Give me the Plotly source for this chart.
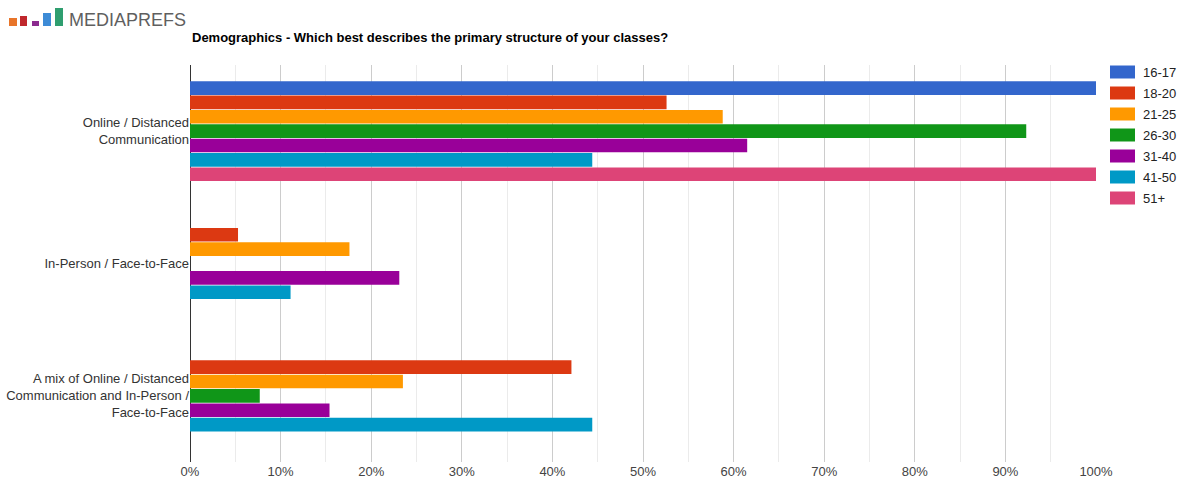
import plotly.graph_objects as go

# Survey answers (y categories, top to bottom)
categories = [
    "Online / Distanced<br>Communication",
    "In-Person / Face-to-Face",
    "A mix of Online / Distanced<br>Communication and In-Person /<br>Face-to-Face",
]

# Age groups and their share of answers (%)
age_groups = ["16-17", "18-20", "21-25", "26-30", "31-40", "41-50", "51+"]
share_16_17 = [100.0, 0.0, 0.0]
share_18_20 = [52.6, 5.3, 42.1]
share_21_25 = [58.8, 17.6, 23.5]
share_26_30 = [92.3, 0.0, 7.7]
share_31_40 = [61.5, 23.1, 15.4]
share_41_50 = [44.4, 11.1, 44.4]
share_51_plus = [100.0, 0.0, 0.0]

x_ticks = list(range(0, 101, 10))
x_tick_labels = [f"{v}%" for v in x_ticks]

series = [share_16_17, share_18_20, share_21_25, share_26_30,
          share_31_40, share_41_50, share_51_plus]
colors = ["#3366cc", "#dc3912", "#ff9900", "#109618",
          "#990099", "#0099c6", "#dd4477"]

W, H = 1182, 487
L, R, T, B = 190, 86, 65, 25
pw, ph = W - L - R, H - T - B


def px_x(x):
    return (x - L) / pw


def px_y(y):
    return (H - B - y) / ph


fig = go.Figure()
for name, vals, col in zip(age_groups, series, colors):
    fig.add_trace(go.Bar(
        y=categories, x=vals, name=name, orientation="h",
        marker=dict(color=col, line=dict(width=0)),
        showlegend=False,
        hovertemplate="%{x:.1f}%<extra>" + name + "</extra>",
    ))

shapes = []
annotations = []

# Legend on the right: wide swatches with labels
for i, (name, col) in enumerate(zip(age_groups, colors)):
    cy = 72 + i * 21
    shapes.append(dict(
        type="rect", xref="paper", yref="paper",
        x0=px_x(1110), x1=px_x(1135), y0=px_y(cy + 6.5), y1=px_y(cy - 6.5),
        fillcolor=col, line=dict(width=0),
    ))
    annotations.append(dict(
        xref="paper", yref="paper", x=px_x(1141), y=px_y(cy),
        text=name, showarrow=False, xanchor="left", yanchor="middle",
        font=dict(family="Liberation Sans, Arial", size=13, color="#222222"),
    ))

# Brand mark: five small bars of rising height
logo_bars = [
    (9, 17, 18, "#e8752a"),
    (20, 27, 16, "#c0282d"),
    (32, 39, 21, "#8b2b8f"),
    (43, 51, 13, "#3d8bd6"),
    (55, 63, 8, "#2f9e6f"),
]
for x0, x1, y0, col in logo_bars:
    shapes.append(dict(
        type="rect", xref="paper", yref="paper",
        x0=px_x(x0), x1=px_x(x1), y0=px_y(26), y1=px_y(y0),
        fillcolor=col, line=dict(width=0),
    ))
annotations.append(dict(
    xref="paper", yref="paper", x=px_x(67), y=px_y(19.5),
    text="MEDIAPREFS", showarrow=False, xanchor="left", yanchor="middle",
    font=dict(family="Liberation Sans, Arial", size=18, color="#5f5f5f"),
))

# Chart title
annotations.append(dict(
    xref="paper", yref="paper", x=px_x(190), y=px_y(37),
    text="<b>Demographics - Which best describes the primary structure of your classes?</b>",
    showarrow=False, xanchor="left", yanchor="middle",
    font=dict(family="Liberation Sans, Arial", size=13, color="#000000"),
))

fig.update_layout(
    width=W, height=H,
    margin=dict(l=L, r=R, t=T, b=B, pad=0, autoexpand=False),
    paper_bgcolor="white", plot_bgcolor="white",
    barmode="group", bargap=0.24, bargroupgap=0.05,
    font=dict(family="Liberation Sans, Arial", size=13, color="#222222"),
    shapes=shapes, annotations=annotations,
    xaxis=dict(
        range=[0, 100], tickvals=x_ticks, ticktext=x_tick_labels,
        showgrid=True, gridcolor="#cccccc", gridwidth=1,
        minor=dict(dtick=5, showgrid=True, gridcolor="#ebebeb", gridwidth=1),
        zeroline=True, zerolinecolor="#333333", zerolinewidth=1,
        showline=False, ticks="", ticklen=0,
        tickfont=dict(size=13, color="#444444"),
        automargin=False, fixedrange=True,
    ),
    yaxis=dict(
        autorange="reversed", showgrid=False, zeroline=False,
        showline=False, ticks="", ticklen=0,
        tickfont=dict(size=13, color="#333333"),
        automargin=False, fixedrange=True,
    ),
)

fig.write_html("out.html")
